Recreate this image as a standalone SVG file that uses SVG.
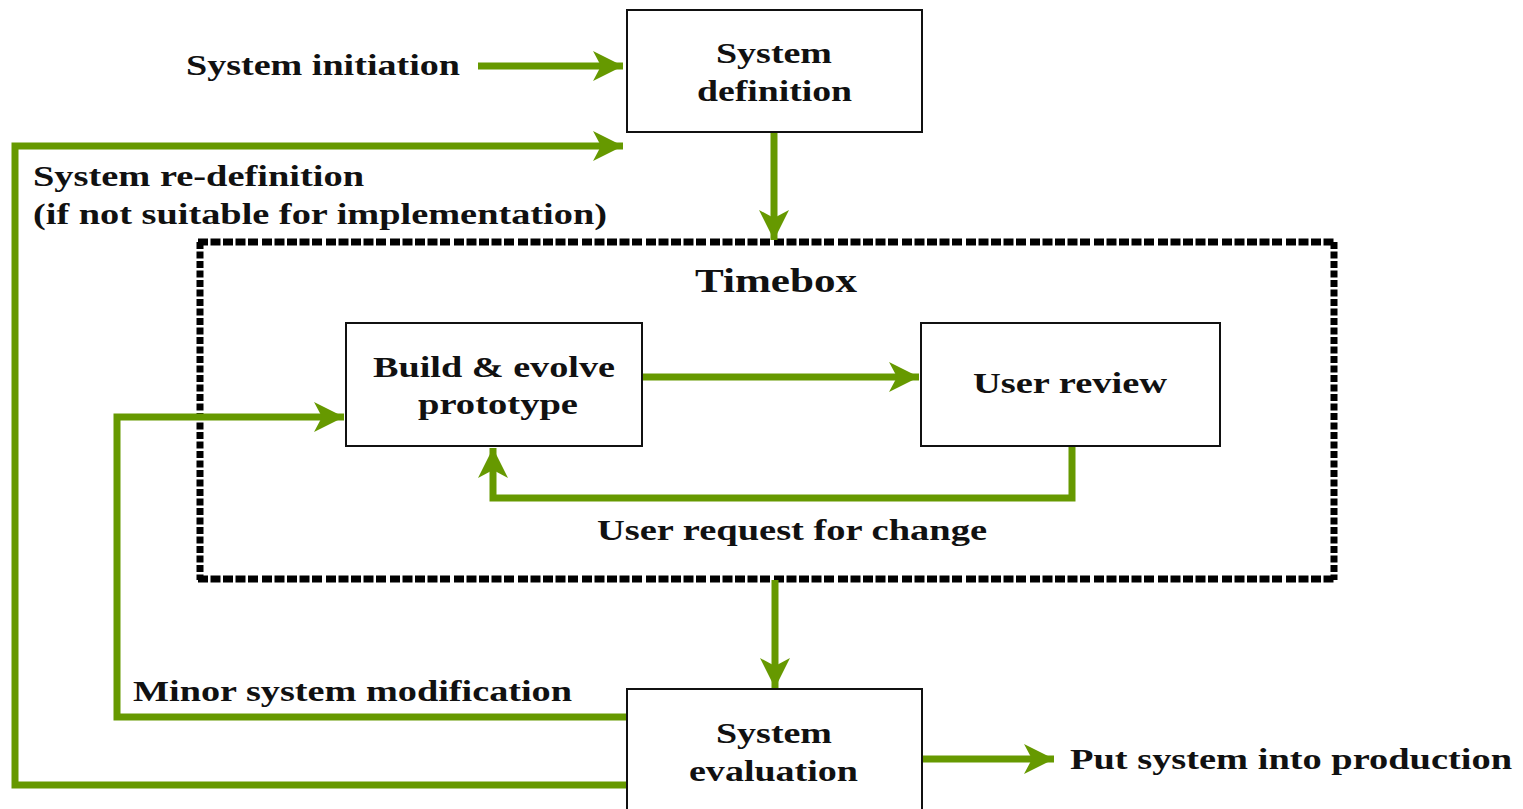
<svg xmlns="http://www.w3.org/2000/svg" width="1523" height="809" viewBox="0 0 1523 809">
<defs>
<marker id="ah" markerUnits="userSpaceOnUse" markerWidth="34" markerHeight="30" refX="30" refY="15" orient="auto">
<path d="M0,0 L30,15 L0,30 L8,15 Z" fill="#669900"/>
</marker>
</defs>
<style>
.t{font-family:"Liberation Serif","Times New Roman",serif;font-weight:bold;font-size:30px;fill:#111}
.c{text-anchor:middle}
.box{fill:#fff;stroke:#111;stroke-width:2}
.g{fill:none;stroke:#669900;stroke-width:7}
.dh{stroke:#000;stroke-width:7;stroke-dasharray:10,2.5,10,2.5,10,2.5,10,2.5,10,4}
.dv{stroke:#000;stroke-width:7;stroke-dasharray:7,2.5}
</style>
<rect width="1523" height="809" fill="#fff"/>
<g id="timebox">
<line class="dh" x1="198" y1="242" x2="1336" y2="242"/>
<line class="dh" x1="198" y1="579" x2="1336" y2="579"/>
<line class="dv" x1="200" y1="242" x2="200" y2="580"/>
<line class="dv" x1="1334" y1="242" x2="1334" y2="580"/>
<text class="t c" x="776" y="292" style="font-size:34px" textLength="162" lengthAdjust="spacingAndGlyphs">Timebox</text>
</g>
<g id="connectors">
<line class="g" x1="478" y1="66" x2="623" y2="66" marker-end="url(#ah)"/>
<polyline class="g" points="627,785 15,785 15,146 623,146" marker-end="url(#ah)"/>
<line class="g" x1="774" y1="132" x2="774" y2="240" marker-end="url(#ah)"/>
<line class="g" x1="642" y1="377" x2="919" y2="377" marker-end="url(#ah)"/>
<polyline class="g" points="1072,446 1072,498 493,498 493,448" marker-end="url(#ah)"/>
<line class="g" x1="775" y1="580" x2="775" y2="688" marker-end="url(#ah)"/>
<polyline class="g" points="627,717 117,717 117,417 344,417" marker-end="url(#ah)"/>
<line class="g" x1="922" y1="759" x2="1054" y2="759" marker-end="url(#ah)"/>
</g>
<g id="labels">
<text class="t" x="186" y="75" textLength="274" lengthAdjust="spacingAndGlyphs">System initiation</text>
<text class="t" x="33" y="186" textLength="331" lengthAdjust="spacingAndGlyphs">System re-definition</text>
<text class="t" x="33" y="224" textLength="574" lengthAdjust="spacingAndGlyphs">(if not suitable for implementation)</text>
<text class="t" x="597" y="540" textLength="390" lengthAdjust="spacingAndGlyphs">User request for change</text>
<text class="t" x="133" y="701" textLength="439" lengthAdjust="spacingAndGlyphs">Minor system modification</text>
<text class="t" x="1070" y="769" textLength="442" lengthAdjust="spacingAndGlyphs">Put system into production</text>
</g>
<g id="system-definition">
<rect class="box" x="627" y="10" width="295" height="122"/>
<text class="t" x="716" y="63" textLength="116" lengthAdjust="spacingAndGlyphs">System</text>
<text class="t" x="697" y="101" textLength="155" lengthAdjust="spacingAndGlyphs">definition</text>
</g>
<g id="build-evolve">
<rect class="box" x="346" y="323" width="296" height="123"/>
<text class="t" x="373" y="377" textLength="242" lengthAdjust="spacingAndGlyphs">Build &amp; evolve</text>
<text class="t" x="418" y="414" textLength="160" lengthAdjust="spacingAndGlyphs">prototype</text>
</g>
<g id="user-review">
<rect class="box" x="921" y="323" width="299" height="123"/>
<text class="t" x="973" y="393" textLength="194" lengthAdjust="spacingAndGlyphs">User review</text>
</g>
<g id="system-evaluation">
<rect class="box" x="627" y="689" width="295" height="130"/>
<text class="t" x="716" y="743" textLength="116" lengthAdjust="spacingAndGlyphs">System</text>
<text class="t" x="689" y="781" textLength="169" lengthAdjust="spacingAndGlyphs">evaluation</text>
</g>
</svg>
